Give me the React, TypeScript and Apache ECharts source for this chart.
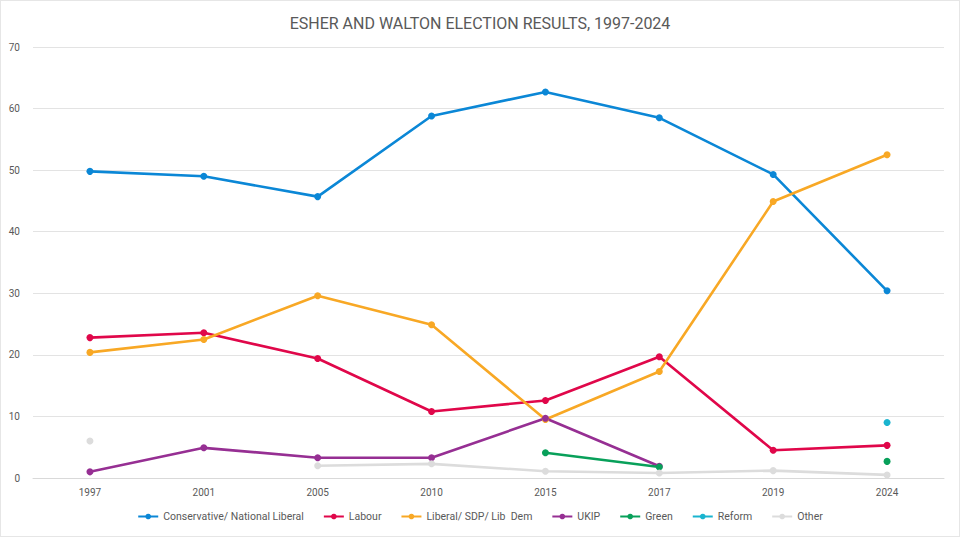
import { useEffect, useRef } from 'react'
import * as echarts from 'echarts'

const years = ['1997', '2001', '2005', '2010', '2015', '2017', '2019', '2024']

const conservative = [49.8, 49.0, 45.7, 58.8, 62.7, 58.5, 49.3, 30.4]
const labour = [22.8, 23.6, 19.4, 10.8, 12.6, 19.7, 4.5, 5.3]
const libDem = [20.4, 22.5, 29.6, 24.9, 9.5, 17.3, 44.9, 52.5]
const ukip = [1.0, 4.9, 3.3, 3.3, 9.7, 1.9, null, null]
const green = [null, null, null, null, 4.1, 1.8, null, 2.7]
const reform = [null, null, null, null, null, null, null, 9.0]
const other = [6.0, null, 2.0, 2.3, 1.1, 0.8, 1.2, 0.5]

const FONT = 'Roboto, sans-serif'

const SERIES: { name: string; data: (number | null)[]; color: string }[] = [
  { name: 'Conservative/ National Liberal', data: conservative, color: '#0b87d6' },
  { name: 'Labour', data: labour, color: '#e0074a' },
  { name: 'Liberal/ SDP/ Lib  Dem', data: libDem, color: '#f8a825' },
  { name: 'UKIP', data: ukip, color: '#962f93' },
  { name: 'Green', data: green, color: '#08a05a' },
  { name: 'Reform', data: reform, color: '#1ab4cf' },
  { name: 'Other', data: other, color: '#dcdcdc' },
]

export default function App() {
  const chartRef = useRef<HTMLDivElement>(null)

  useEffect(() => {
    if (!chartRef.current) return
    document.body.style.margin = '0'

    const chart = echarts.init(chartRef.current, null, { renderer: 'svg' })

    const option: echarts.EChartsOption = {
      animation: false,
      backgroundColor: '#ffffff',
      title: {
        text: 'ESHER AND WALTON ELECTION RESULTS, 1997-2024',
        left: 'center',
        top: 9,
        textStyle: {
          color: '#595959',
          fontSize: 16,
          fontWeight: 'normal',
          fontFamily: FONT,
        },
      },
      grid: {
        left: 32,
        right: 15,
        top: 46,
        bottom: 58,
      },
      legend: {
        bottom: 9,
        left: 'center',
        itemWidth: 20,
        itemHeight: 7,
        itemGap: 19,
        textStyle: {
          color: '#595959',
          fontSize: 10.5,
          fontFamily: FONT,
        },
        data: SERIES.map((s) => s.name),
      },
      xAxis: {
        type: 'category',
        data: years,
        boundaryGap: true,
        axisLine: { lineStyle: { color: '#d9d9d9' } },
        axisTick: { show: false },
        axisLabel: {
          color: '#595959',
          fontSize: 10,
          fontFamily: FONT,
          margin: 9,
        },
      },
      yAxis: {
        type: 'value',
        min: 0,
        max: 70,
        interval: 10,
        axisLine: { show: false },
        axisTick: { show: false },
        splitLine: { lineStyle: { color: '#e3e3e3' } },
        axisLabel: {
          color: '#595959',
          fontSize: 10,
          fontFamily: FONT,
          margin: 13,
        },
      },
      series: SERIES.map((s) => ({
        name: s.name,
        type: 'line',
        data: s.data,
        connectNulls: false,
        symbol: 'circle',
        symbolSize: 7,
        showAllSymbol: true,
        color: s.color,
        lineStyle: { width: 2.6, color: s.color },
        itemStyle: { color: s.color },
      })),
    }

    chart.setOption(option)

    const handleResize = () => chart.resize()
    window.addEventListener('resize', handleResize)

    return () => {
      window.removeEventListener('resize', handleResize)
      chart.dispose()
    }
  }, [])

  return (
    <div
      ref={chartRef}
      style={{ width: '960px', height: '537px', boxSizing: 'border-box', border: '1px solid #e6e6e6' }}
    />
  )
}
